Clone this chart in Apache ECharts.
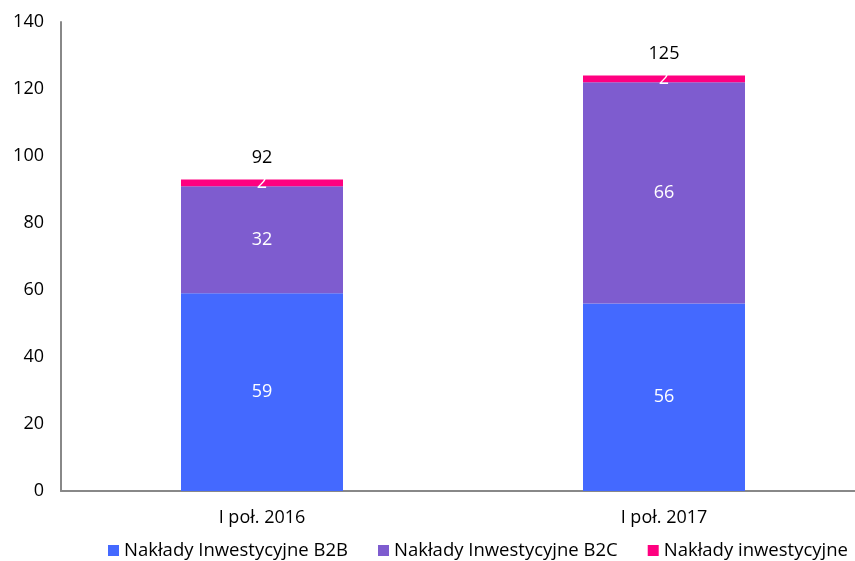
<!DOCTYPE html>
<html>
<head>
<meta charset="utf-8">
<script src="https://cdn.jsdelivr.net/npm/echarts@6/dist/echarts.min.js"></script>
<style>
html, body { margin: 0; padding: 0; background: #fff; }
#main { width: 855px; height: 561px; }
</style>
</head>
<body>
<div id="main"></div>
<script>
const categories = ["I poł. 2016", "I poł. 2017"]
const b2b = [59, 56]
const b2c = [32, 66]
const other = [2, 2]
const totals = [92, 125]
const yTicks = { min: 0, max: 140, interval: 20 }

const font = "'Open Sans', Lato, sans-serif"
let chart = echarts.init(document.getElementById("main"))

function part(name, data, color) {
  return {
    name: name,
    type: "bar",
    stack: "all",
    barWidth: 162,
    data: data,
    itemStyle: { color: color },
    label: {
      show: true,
      position: "inside",
      color: "#fff",
      fontSize: 18,
      fontFamily: font
    }
  }
}

chart.setOption({
  animation: false,
  textStyle: { fontFamily: font },
  grid: { left: 61, width: 804, top: 22, bottom: 70, outerBoundsMode: "none" },
  legend: {
    top: 536,
    left: 103,
    itemWidth: 11,
    itemHeight: 11,
    itemGap: 30,
    itemTextGap: 4,
    icon: "rect",
    textStyle: { fontSize: 18.5, color: "#000", fontFamily: font },
    data: ["Nakłady Inwestycyjne B2B", "Nakłady Inwestycyjne B2C", "Nakłady inwestycyjne"]
  },
  xAxis: {
    type: "category",
    data: categories,
    axisLine: { lineStyle: { color: "#888", width: 2 } },
    axisTick: { show: false },
    axisLabel: { fontSize: 18, color: "#000", margin: 18 }
  },
  yAxis: {
    type: "value",
    min: yTicks.min,
    max: yTicks.max,
    interval: yTicks.interval,
    splitLine: { show: false },
    axisLine: { show: true, lineStyle: { color: "#888", width: 2 } },
    axisTick: { show: false },
    axisLabel: { fontSize: 18, color: "#000", margin: 17 }
  },
  series: [
    part("Nakłady Inwestycyjne B2B", b2b, "#4469FF"),
    part("Nakłady Inwestycyjne B2C", b2c, "#7E5CCF"),
    part("Nakłady inwestycyjne", other, "#FF0080"),
    {
      name: "total",
      type: "bar",
      stack: "all",
      barWidth: 162,
      data: [0, 0],
      itemStyle: { color: "transparent" },
      label: {
        show: true,
        position: "top",
        distance: 13,
        color: "#000",
        fontSize: 18,
        fontFamily: font,
        formatter: p => totals[p.dataIndex]
      }
    }
  ]
})
</script>
</body>
</html>
